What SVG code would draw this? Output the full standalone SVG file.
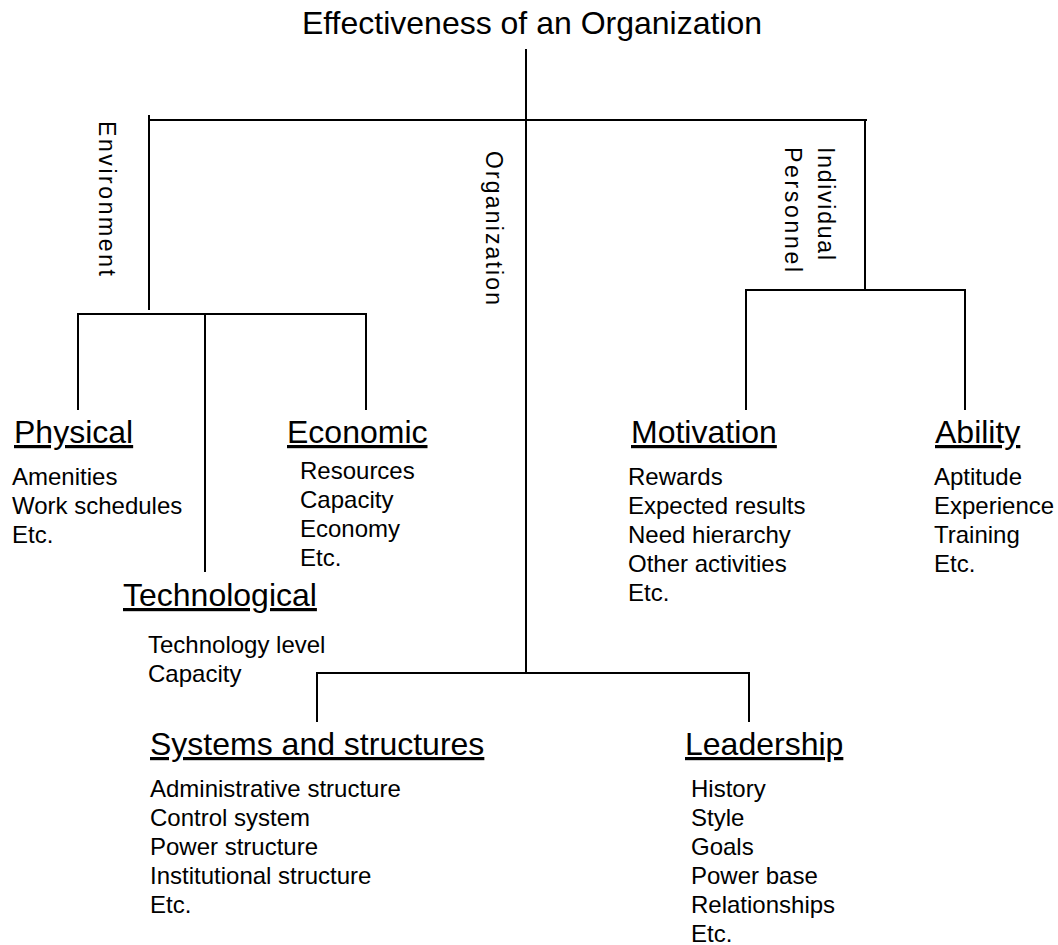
<svg xmlns="http://www.w3.org/2000/svg" width="1058" height="945" viewBox="0 0 1058 945">
  <style>
    text { font-family: "Liberation Sans", Arial, sans-serif; fill: #000; }
    .title { font-size: 32px; text-anchor: middle; }
    .head { font-size: 32px; text-decoration: underline; }
    .item { font-size: 24px; }
    .vert { font-size: 23px; }
    .wire { stroke: #000; stroke-width: 2; fill: none; stroke-linecap: square; }
  </style>
  <rect width="1058" height="945" fill="#fff"/>

  <!-- connectors -->
  <g id="connectors" class="wire">
    <path d="M526,50 V672"/>
    <path d="M149,120 H866"/>
    <path d="M149,116 V309"/>
    <path d="M78,314 H366 M78,314 V409 M205,314 V571 M366,314 V409"/>
    <path d="M865,120 V289"/>
    <path d="M746,290 H965 M746,290 V409 M965,290 V409"/>
    <path d="M317,673 H749 M317,673 V721 M749,673 V721"/>
  </g>

  <!-- root -->
  <g id="root">
    <text class="title" x="532" y="34">Effectiveness of an Organization</text>
  </g>

  <!-- branch labels -->
  <g id="branch-environment">
    <text class="vert" transform="translate(99,121) rotate(90)" textLength="155" lengthAdjust="spacing">Environment</text>
  </g>
  <g id="branch-organization">
    <text class="vert" transform="translate(486,151) rotate(90)" textLength="154" lengthAdjust="spacing">Organization</text>
  </g>
  <g id="branch-personnel">
    <text class="vert" transform="translate(818,147) rotate(90)" textLength="113" lengthAdjust="spacing">Individual</text>
    <text class="vert" transform="translate(785,147) rotate(90)" textLength="125" lengthAdjust="spacing">Personnel</text>
  </g>

  <!-- environment factors -->
  <g id="physical">
    <text class="head" x="14" y="443">Physical</text>
    <text class="item" x="12" y="485">Amenities</text>
    <text class="item" x="12" y="514">Work schedules</text>
    <text class="item" x="12" y="543">Etc.</text>
  </g>
  <g id="economic">
    <text class="head" x="287" y="443">Economic</text>
    <text class="item" x="300" y="479">Resources</text>
    <text class="item" x="300" y="508">Capacity</text>
    <text class="item" x="300" y="537">Economy</text>
    <text class="item" x="300" y="566">Etc.</text>
  </g>
  <g id="technological">
    <text class="head" x="123" y="606">Technological</text>
    <text class="item" x="148" y="653">Technology level</text>
    <text class="item" x="148" y="682">Capacity</text>
  </g>

  <!-- personnel factors -->
  <g id="motivation">
    <text class="head" x="631" y="443">Motivation</text>
    <text class="item" x="628" y="485">Rewards</text>
    <text class="item" x="628" y="514">Expected results</text>
    <text class="item" x="628" y="543">Need hierarchy</text>
    <text class="item" x="628" y="572">Other activities</text>
    <text class="item" x="628" y="601">Etc.</text>
  </g>
  <g id="ability">
    <text class="head" x="935" y="443">Ability</text>
    <text class="item" x="934" y="485">Aptitude</text>
    <text class="item" x="934" y="514">Experience</text>
    <text class="item" x="934" y="543">Training</text>
    <text class="item" x="934" y="572">Etc.</text>
  </g>

  <!-- organization factors -->
  <g id="systems">
    <text class="head" x="150" y="755">Systems and structures</text>
    <text class="item" x="150" y="797">Administrative structure</text>
    <text class="item" x="150" y="826">Control system</text>
    <text class="item" x="150" y="855">Power structure</text>
    <text class="item" x="150" y="884">Institutional structure</text>
    <text class="item" x="150" y="913">Etc.</text>
  </g>
  <g id="leadership">
    <text class="head" x="685" y="755">Leadership</text>
    <text class="item" x="691" y="797">History</text>
    <text class="item" x="691" y="826">Style</text>
    <text class="item" x="691" y="855">Goals</text>
    <text class="item" x="691" y="884">Power base</text>
    <text class="item" x="691" y="913">Relationships</text>
    <text class="item" x="691" y="942">Etc.</text>
  </g>
</svg>
